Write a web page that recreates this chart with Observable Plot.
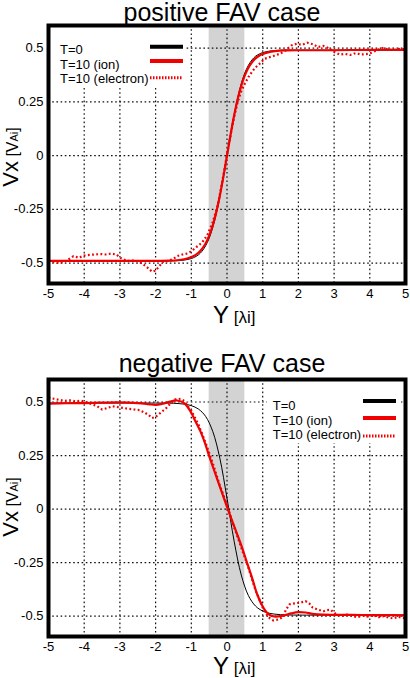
<!DOCTYPE html>
<html><head><meta charset="utf-8">
<script src="https://cdn.jsdelivr.net/npm/d3@7"></script>
<script src="https://cdn.jsdelivr.net/npm/@observablehq/plot@0.6"></script>
<style>
body{margin:0;background:#fff;}
#chart{width:410px;}
svg{display:block;}
</style>
</head><body><div id="chart"></div>
<script>
// ---------- ticks ----------
const xTicks = [-5,-4,-3,-2,-1,0,1,2,3,4,5];
const xTickLabels = ["-5","-4","-3","-2","-1","0","1","2","3","4","5"];
const xGrid = [-4,-3,-2,-1,0,1,2,3,4];
const yTicks = [-0.5,-0.25,0,0.25,0.5];
const yTickLabels = ["-0.5","-0.25","0","0.25","0.5"];
const seriesNames = ["T=0","T=10 (ion)","T=10 (electron)"];
const band = [{x1:-0.5, x2:0.5}];

// ---------- positive FAV case ----------
const posT0Y = [-5,-4,-3,-2,-1.6,-1.4,-1.2,-1.0,-0.9,-0.8,-0.7,-0.6,-0.5,-0.4,-0.3,-0.2,-0.1,0,0.1,0.2,0.3,0.4,0.5,0.6,0.7,0.8,0.9,1.0,1.2,1.4,1.6,2,3,4,5];
const posT0V = [-0.49,-0.49,-0.49,-0.49,-0.49,-0.489,-0.486,-0.479,-0.472,-0.462,-0.445,-0.42,-0.385,-0.335,-0.27,-0.19,-0.1,0,0.1,0.19,0.27,0.335,0.385,0.42,0.445,0.462,0.472,0.479,0.486,0.489,0.49,0.49,0.49,0.49,0.49];

const posIonY = [-5,-4,-3,-2,-1.6,-1.4,-1.2,-1.0,-0.9,-0.8,-0.7,-0.6,-0.5,-0.4,-0.3,-0.2,-0.1,0,0.1,0.2,0.3,0.4,0.5,0.6,0.7,0.8,0.9,1.0,1.2,1.4,1.6,2,3,4,5];
const posIonV = [-0.49,-0.49,-0.49,-0.49,-0.489,-0.487,-0.482,-0.472,-0.464,-0.452,-0.434,-0.409,-0.373,-0.325,-0.263,-0.186,-0.097,0,0.097,0.186,0.263,0.325,0.373,0.409,0.434,0.452,0.464,0.472,0.482,0.487,0.489,0.49,0.49,0.492,0.492];

const posElY = [-5,-4.85,-4.7,-4.5,-4.3,-4.15,-4.0,-3.85,-3.7,-3.55,-3.4,-3.25,-3.1,-2.95,-2.8,-2.65,-2.5,-2.35,-2.2,-2.1,-2.0,-1.9,-1.8,-1.65,-1.5,-1.4,-1.25,-1.1,-1.0,-0.85,-0.7,-0.55,-0.4,-0.25,-0.1,0,0.1,0.2,0.3,0.4,0.5,0.6,0.7,0.8,0.9,1.05,1.2,1.35,1.5,1.65,1.8,1.95,2.1,2.25,2.4,2.55,2.7,2.85,3.0,3.15,3.3,3.45,3.6,3.75,3.9,4.05,4.2,4.35,4.5,4.65,4.8,5];
const posElV = [-0.49,-0.495,-0.5,-0.49,-0.468,-0.475,-0.465,-0.462,-0.46,-0.458,-0.46,-0.456,-0.46,-0.48,-0.49,-0.488,-0.492,-0.505,-0.525,-0.54,-0.535,-0.515,-0.495,-0.49,-0.48,-0.468,-0.46,-0.455,-0.445,-0.425,-0.405,-0.37,-0.31,-0.225,-0.09,0.005,0.095,0.18,0.25,0.3,0.335,0.365,0.39,0.41,0.425,0.45,0.458,0.466,0.475,0.49,0.512,0.52,0.515,0.525,0.518,0.505,0.51,0.5,0.482,0.47,0.473,0.468,0.476,0.47,0.472,0.478,0.49,0.5,0.495,0.49,0.496,0.495];

// ---------- negative FAV case ----------
const negT0Y = [-5,-3,-2,-1.5,-1.2,-1.0,-0.8,-0.6,-0.4,-0.2,0,0.2,0.4,0.6,0.8,1.0,1.2,1.5,2,3,5];
const negT0V = [0.495,0.495,0.495,0.494,0.49,0.483,0.467,0.433,0.363,0.237,0.051,-0.15,-0.308,-0.404,-0.453,-0.476,-0.487,-0.493,-0.495,-0.495,-0.495];

const negIonY = [-5,-4.5,-4,-3.5,-3,-2.5,-2.2,-2,-1.8,-1.6,-1.4,-1.2,-1.0,-0.9,-0.75,-0.6,-0.5,-0.4,-0.2,0,0.2,0.4,0.55,0.7,0.85,1.0,1.1,1.2,1.35,1.5,1.65,1.8,2.0,2.2,2.4,2.7,3,3.5,4,4.5,5];
const negIonV = [0.492,0.494,0.495,0.497,0.498,0.495,0.49,0.486,0.492,0.502,0.507,0.495,0.45,0.415,0.365,0.30,0.248,0.2,0.105,0.01,-0.08,-0.17,-0.245,-0.32,-0.40,-0.455,-0.48,-0.495,-0.502,-0.5,-0.494,-0.487,-0.481,-0.483,-0.489,-0.493,-0.494,-0.494,-0.495,-0.495,-0.496];

const negElY = [-5,-4.85,-4.7,-4.55,-4.4,-4.25,-4.1,-3.95,-3.8,-3.65,-3.5,-3.35,-3.2,-3.05,-2.9,-2.75,-2.6,-2.45,-2.3,-2.2,-2.1,-2.0,-1.9,-1.8,-1.7,-1.6,-1.45,-1.3,-1.2,-1.1,-1.0,-0.8,-0.6,-0.4,-0.2,0,0.2,0.4,0.6,0.8,1.0,1.1,1.2,1.3,1.45,1.57,1.65,1.75,1.9,2.05,2.2,2.3,2.4,2.55,2.7,2.8,2.9,3.05,3.2,3.35,3.5,3.65,3.8,3.95,4.1,4.25,4.4,4.55,4.65,4.8,4.9,5];
const negElV = [0.52,0.515,0.51,0.505,0.508,0.503,0.506,0.5,0.49,0.482,0.465,0.472,0.48,0.476,0.472,0.468,0.465,0.462,0.45,0.44,0.425,0.43,0.444,0.458,0.472,0.49,0.512,0.515,0.505,0.48,0.46,0.395,0.31,0.215,0.11,0.02,-0.085,-0.18,-0.275,-0.38,-0.46,-0.49,-0.51,-0.52,-0.515,-0.502,-0.47,-0.445,-0.44,-0.437,-0.43,-0.44,-0.46,-0.47,-0.477,-0.472,-0.47,-0.49,-0.5,-0.493,-0.498,-0.505,-0.497,-0.502,-0.495,-0.505,-0.5,-0.508,-0.51,-0.503,-0.507,-0.51];

const RED = "#f00000";
const FONT = "'Liberation Sans', Arial, Helvetica, sans-serif";

function rows(ys, vs){ return ys.map((y,i)=>({y, v: vs[i]})); }

function panel(cfg){
  const svg = Plot.plot({
    width: 410, height: 339,
    marginLeft: 48, marginRight: 5, marginTop: cfg.mt, marginBottom: cfg.mb,
    x: {domain: [-5,5]},
    y: {domain: [-0.595, 0.605]},
    style: {fontFamily: FONT, fontSize: "13px", color: "black", background: "white", overflow: "visible"},
    marks: [
      Plot.rect(band, {x1: "x1", x2: "x2", fill: "#d3d3d3"}),
      Plot.ruleX(xGrid, {stroke: "#111", strokeWidth: 1.2, strokeDasharray: "1.6,2.6"}),
      Plot.ruleY(yTicks, {stroke: "#111", strokeWidth: 1.2, strokeDasharray: "1.6,2.6"}),
      Plot.line(rows(cfg.t0y, cfg.t0v), {x: "y", y: "v", stroke: "black", strokeWidth: 1, curve: "catmull-rom", clip: true}),
      Plot.line(rows(cfg.iony, cfg.ionv), {x: "y", y: "v", stroke: RED, strokeWidth: 2.2, curve: "catmull-rom", clip: true}),
      Plot.line(rows(cfg.ely, cfg.elv), {x: "y", y: "v", stroke: RED, strokeWidth: 2.2, strokeDasharray: "1.8,2.4", strokeLinecap: "butt", clip: true}),
      Plot.axisX(xTicks, {tickSize: 0, tickPadding: 5, fontSize: 13, label: null, tickFormat: d => xTickLabels[xTicks.indexOf(d)]}),
      Plot.axisY(yTicks, {tickSize: 0, tickPadding: 5, fontSize: 13, label: null, tickFormat: d => yTickLabels[yTicks.indexOf(d)]}),
      Plot.frame({stroke: "black", strokeWidth: 4})
    ]
  });
  const s = d3.select(svg);
  s.append("text").attr("x", 222).attr("y", cfg.titleY).attr("text-anchor", "middle")
    .attr("font-family", FONT).attr("font-size", 25).attr("fill", "black").text(cfg.title);
  const xl = s.append("text").attr("x", 213).attr("y", cfg.xLabelY).attr("text-anchor", "start")
    .attr("font-family", FONT).attr("fill", "black");
  xl.append("tspan").attr("font-size", 24).text("Y");
  xl.append("tspan").attr("font-size", 17).text(" [λi]");
  const yl = s.append("text").attr("transform", `translate(17.5,${cfg.yLabelY}) rotate(-90)`)
    .attr("text-anchor", "middle").attr("font-family", FONT).attr("fill", "black");
  yl.append("tspan").attr("font-size", 22).text("Vx");
  yl.append("tspan").attr("font-size", 16).text(" [V");
  yl.append("tspan").attr("font-size", 11).text("Ai");
  yl.append("tspan").attr("font-size", 16).text("]");
  // legend (opaque key box, like gnuplot)
  const L = cfg.legend;
  s.append("rect").attr("x", L.bx).attr("y", L.by).attr("width", L.bw).attr("height", L.bh).attr("fill", "white");
  const styles = [
    {stroke: "black", w: 4, dash: null},
    {stroke: RED, w: 4, dash: null},
    {stroke: RED, w: 3, dash: "1.5,1.5"}
  ];
  seriesNames.forEach((name, i) => {
    s.append("text").attr("x", L.tx).attr("y", L.ty[i]).attr("text-anchor", "start")
      .attr("font-family", FONT).attr("font-size", 13).attr("fill", "black").text(name);
    const ln = s.append("line").attr("x1", L.x1).attr("x2", L.x2).attr("y1", L.ly[i]).attr("y2", L.ly[i])
      .attr("stroke", styles[i].stroke).attr("stroke-width", styles[i].w);
    if (styles[i].dash) ln.attr("stroke-dasharray", styles[i].dash);
  });
  return svg;
}

const chart = document.getElementById("chart");
chart.appendChild(panel({
  title: "positive FAV case", mt: 25, mb: 56, titleY: 21, xLabelY: 323, yLabelY: 157,
  t0y: posT0Y, t0v: posT0V, iony: posIonY, ionv: posIonV, ely: posElY, elv: posElV,
  legend: {bx: 52, by: 28, bw: 134, bh: 60, tx: 60, ty: [54, 68.5, 83], x1: 150, x2: 183, ly: [46.7, 61, 77.7]}
}));
chart.appendChild(panel({
  title: "negative FAV case", mt: 40, mb: 42, titleY: 33, xLabelY: 335, yLabelY: 168,
  t0y: negT0Y, t0v: negT0V, iony: negIonY, ionv: negIonV, ely: negElY, elv: negElV,
  legend: {bx: 267, by: 43, bw: 134, bh: 61, tx: 272.7, ty: [71, 86, 100], x1: 363, x2: 396, ly: [62, 79, 97]}
}));
</script>
</body></html>
